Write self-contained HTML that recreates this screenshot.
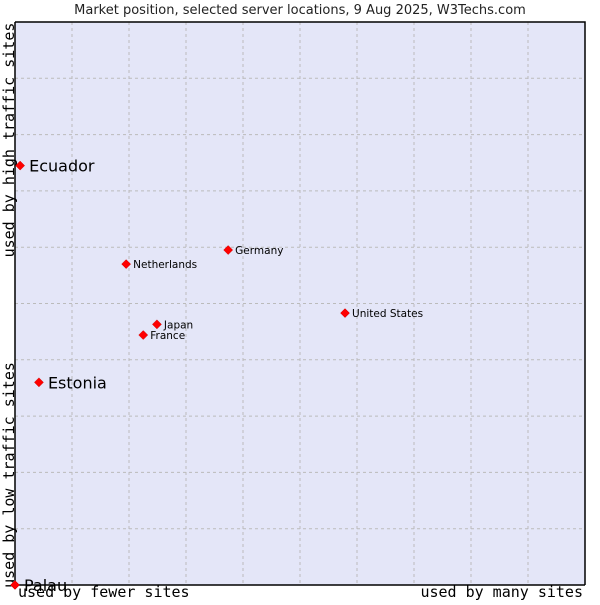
<!DOCTYPE html>
<html><head><meta charset="utf-8"><style>
body{margin:0;background:#fff;width:600px;height:600px;overflow:hidden}
svg text{font-family:"DejaVu Sans",sans-serif}
</style></head><body>
<svg width="600" height="600" id="c">
<text x="300" y="14" text-anchor="middle" font-size="13" fill="#222">Market position, selected server locations, 9 Aug 2025, W3Techs.com</text>
<rect x="15" y="22" width="570" height="563" fill="#e4e6f8"/>
<g id="grid"></g>
<path d="M15,22 H585 V585 M15,22 V585 H585" fill="none" stroke="#000" stroke-width="1.5"/>
<text transform="translate(14,140) rotate(-90)" text-anchor="middle" font-size="15" style="font-family:'DejaVu Sans Mono',monospace">used by high traffic sites</text>
<text transform="translate(14,475) rotate(-90)" text-anchor="middle" font-size="15" style="font-family:'DejaVu Sans Mono',monospace">used by low traffic sites</text>
<text x="18" y="597" font-size="15" style="font-family:'DejaVu Sans Mono',monospace">used by fewer sites</text>
<text x="583" y="597" text-anchor="end" font-size="15" style="font-family:'DejaVu Sans Mono',monospace">used by many sites</text>
<g id="pts"></g>
</svg>
<script>
const names=["Ecuador","Estonia","Palau","Netherlands","Germany","United States","Japan","France"];
const xs=[0.9,4.2,0,19.5,37.4,57.9,24.9,22.5];
const ys=[74.5,36.0,0,57.0,59.5,48.3,46.3,44.4];
const big=[1,1,1,0,0,0,0,0];
const X=v=>15+v*5.7, Y=v=>585-v*5.63;
const ns="http://www.w3.org/2000/svg";
const g=document.getElementById('grid');
for(let i=1;i<10;i++){
  const a=document.createElementNS(ns,'line');
  a.setAttribute('x1',X(i*10));a.setAttribute('x2',X(i*10));a.setAttribute('y1',22);a.setAttribute('y2',585);
  a.setAttribute('stroke','#bbb');a.setAttribute('stroke-dasharray','3,3');
  
  
  g.appendChild(a);
  const b=document.createElementNS(ns,'line');
  b.setAttribute('y1',Y(i*10));b.setAttribute('y2',Y(i*10));b.setAttribute('x1',15);b.setAttribute('x2',585);
  b.setAttribute('stroke','#bbb');b.setAttribute('stroke-dasharray','3,3');
  
  
  g.appendChild(b);
}
const p=document.getElementById('pts');
names.forEach((n,i)=>{
  const x=X(xs[i]),y=Y(ys[i]);
  const d=document.createElementNS(ns,'path');
  d.setAttribute('d',`M${x-4.5},${y} L${x},${y-4.5} L${x+4.5},${y} L${x},${y+4.5}Z`);
  d.setAttribute('fill','#f00');d.setAttribute('stroke','#c00');d.setAttribute('stroke-width','0.5');
  
  
  p.appendChild(d);
  const t=document.createElementNS(ns,'text');
  t.setAttribute('x',x+(big[i]?9:7));t.setAttribute('y',y+(big[i]?6:4));
  t.setAttribute('font-size',big[i]?16:10.5);t.setAttribute('fill','#000');
  t.textContent=n;
  
  
  p.appendChild(t);
});
</script>
</body></html>
